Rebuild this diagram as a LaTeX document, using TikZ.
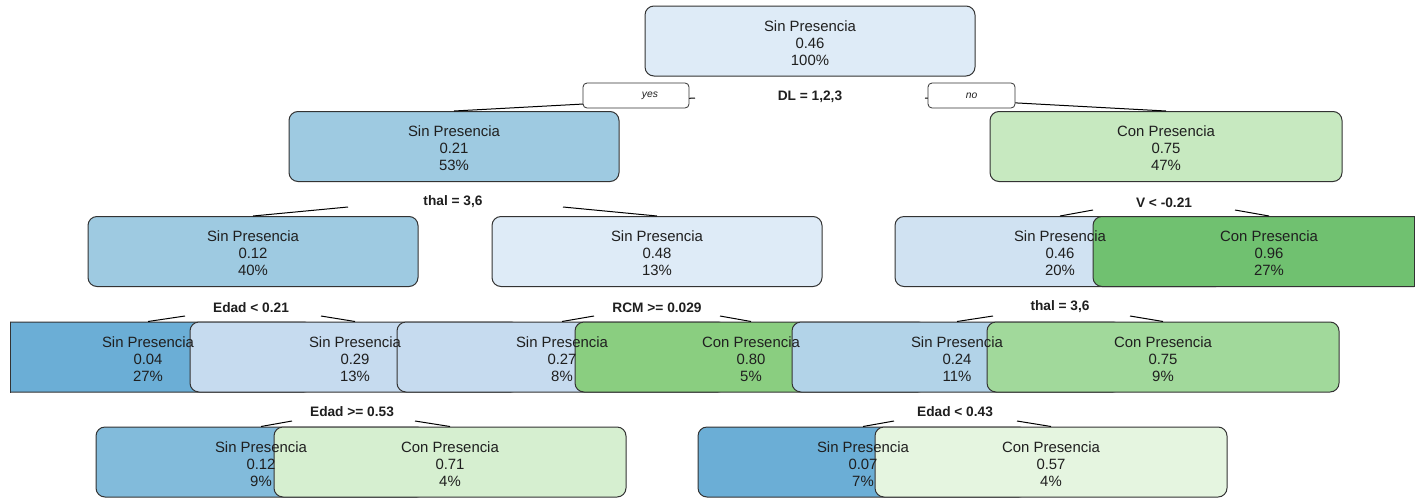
\documentclass[tikz,border=0pt]{standalone}
\usepackage{fontspec}
\setmainfont{Liberation Sans}
\definecolor{bordc}{HTML}{333333}
\definecolor{txtc}{HTML}{1F1F1F}
\definecolor{bA}{HTML}{DEEBF7}
\definecolor{bB}{HTML}{9ECAE1}
\definecolor{bC}{HTML}{D0E2F2}
\definecolor{bD}{HTML}{6BAED6}
\definecolor{bE}{HTML}{C6DBEF}
\definecolor{bF}{HTML}{B2D3E8}
\definecolor{bG}{HTML}{82BBDB}
\definecolor{gA}{HTML}{C7E9C0}
\definecolor{gB}{HTML}{70C170}
\definecolor{gC}{HTML}{8ACE80}
\definecolor{gD}{HTML}{A1D99B}
\definecolor{gE}{HTML}{D6EFD0}
\definecolor{gF}{HTML}{E5F5E0}
\begin{document}
\begin{tikzpicture}[x=1pt,y=-1pt,
  box/.style={draw=bordc, line width=1pt, rounded corners=9pt,
    minimum height=70pt, inner sep=0pt, anchor=center},
  sinbox/.style={box, minimum width=330pt},
  conbox/.style={box, minimum width=352pt},
  txt/.style={align=center, text=txtc, inner sep=0pt, yshift=-2pt,
    font=\fontsize{14.9}{16.9}\selectfont},
  split/.style={inner sep=0pt, text=txtc,
    font=\bfseries\fontsize{13.7}{15}\selectfont},
  yn/.style={draw=bordc, fill=white, line width=0.8pt, rounded corners=4pt,
    minimum height=25pt, inner sep=0pt, text=txtc,
    font=\itshape\fontsize{10.3}{12}\selectfont},
  branch/.style={draw=black, line width=1pt}]

% page and background
\fill[white] (0,0) rectangle (1423,501);
\useasboundingbox (0,0) rectangle (1423,501);

\coordinate (clipL) at (10,0);
\coordinate (clipR) at (1414,0);

% boxes, left to right within each level, the right one drawn on top
\begin{scope}
  \clip (clipL) rectangle (1414,501);
  \node[sinbox, fill=bA] (root) at (810,41) {};
  \node[sinbox, fill=bB] (n2) at (454,146.5) {};
  \node[conbox, fill=gA] (n3) at (1166,146.5) {};
  \node[sinbox, fill=bB] (n4) at (253,251.5) {};
  \node[sinbox, fill=bA] (n5) at (657,251.5) {};
  \node[sinbox, fill=bC] (n6) at (1060,251.5) {};
  \node[conbox, fill=gB] (n7) at (1269,251.5) {};
  \node[sinbox, fill=bD] (n8) at (148,357) {};
  \node[sinbox, fill=bE] (n9) at (355,357) {};
  \node[sinbox, fill=bE] (n10) at (562,357) {};
  \node[conbox, fill=gC] (n11) at (751,357) {};
  \node[sinbox, fill=bF] (n12) at (957,357) {};
  \node[conbox, fill=gD] (n13) at (1163,357) {};
  \node[sinbox, fill=bG] (n14) at (261,462) {};
  \node[conbox, fill=gE] (n15) at (450,462) {};
  \node[sinbox, fill=bD] (n16) at (863,462) {};
  \node[conbox, fill=gF] (n17) at (1051,462) {};
\end{scope}
% edges of the boxes cut at the plot border
\draw[draw=bordc, line width=1pt] (n8.north -| clipL) -- (n8.south -| clipL);
\draw[draw=bordc, line width=1pt] (n7.north -| clipR) -- (n7.south -| clipR);

% split labels
\node[split] (s1) at (810,97) {DL = 1,2,3};
\node[split] (s2) at (453,202) {thal = 3,6};
\node[split] (s3) at (1164,203) {V < -0.21};
\node[split] (s4) at (251,308) {Edad < 0.21};
\node[split] (s5) at (657,308) {RCM >= 0.029};
\node[split] (s6) at (1060,307) {thal = 3,6};
\node[split] (s7) at (352,412) {Edad >= 0.53};
\node[split] (s8) at (955,412) {Edad < 0.43};

% branch start points beside the split labels
\coordinate (b1l) at (695,98);  \coordinate (b1r) at (925,98);
\coordinate (b2l) at (348,207); \coordinate (b2r) at (563,207);
\coordinate (b3l) at (1093,210);\coordinate (b3r) at (1235,210);
\coordinate (b4l) at (185,316); \coordinate (b4r) at (321,316);
\coordinate (b5l) at (594,316); \coordinate (b5r) at (720,316);
\coordinate (b6l) at (993,316); \coordinate (b6r) at (1130,316);
\coordinate (b7l) at (292,421); \coordinate (b7r) at (415,421);
\coordinate (b8l) at (894,421); \coordinate (b8r) at (1017,421);

% branches
\draw[branch] (b1l) -- (n2.north);  \draw[branch] (b1r) -- (n3.north);
\draw[branch] (b2l) -- (n4.north);  \draw[branch] (b2r) -- (n5.north);
\draw[branch] (b3l) -- (n6.north);  \draw[branch] (b3r) -- (n7.north);
\draw[branch] (b4l) -- (n8.north);  \draw[branch] (b4r) -- (n9.north);
\draw[branch] (b5l) -- (n10.north); \draw[branch] (b5r) -- (n11.north);
\draw[branch] (b6l) -- (n12.north); \draw[branch] (b6r) -- (n13.north);
\draw[branch] (b7l) -- (n14.north); \draw[branch] (b7r) -- (n15.north);
\draw[branch] (b8l) -- (n16.north); \draw[branch] (b8r) -- (n17.north);

% yes / no tags on the first split
\node[yn, minimum width=106pt] (yes) at (636,95.5) {\hspace*{28pt}yes};
\node[yn, minimum width=87pt] (no) at (971.5,95.5) {no};

% node texts
\node[txt] (t1) at (root) {Sin Presencia\\0.46\\100\%};
\node[txt] (t2) at (n2) {Sin Presencia\\0.21\\53\%};
\node[txt] (t3) at (n3) {Con Presencia\\0.75\\47\%};
\node[txt] (t4) at (n4) {Sin Presencia\\0.12\\40\%};
\node[txt] (t5) at (n5) {Sin Presencia\\0.48\\13\%};
\node[txt] (t6) at (n6) {Sin Presencia\\0.46\\20\%};
\node[txt] (t7) at (n7) {Con Presencia\\0.96\\27\%};
\node[txt] (t8) at (n8) {Sin Presencia\\0.04\\27\%};
\node[txt] (t9) at (n9) {Sin Presencia\\0.29\\13\%};
\node[txt] (t10) at (n10) {Sin Presencia\\0.27\\8\%};
\node[txt] (t11) at (n11) {Con Presencia\\0.80\\5\%};
\node[txt] (t12) at (n12) {Sin Presencia\\0.24\\11\%};
\node[txt] (t13) at (n13) {Con Presencia\\0.75\\9\%};
\node[txt] (t14) at (n14) {Sin Presencia\\0.12\\9\%};
\node[txt] (t15) at (n15) {Con Presencia\\0.71\\4\%};
\node[txt] (t16) at (n16) {Sin Presencia\\0.07\\7\%};
\node[txt] (t17) at (n17) {Con Presencia\\0.57\\4\%};
\end{tikzpicture}
\end{document}
